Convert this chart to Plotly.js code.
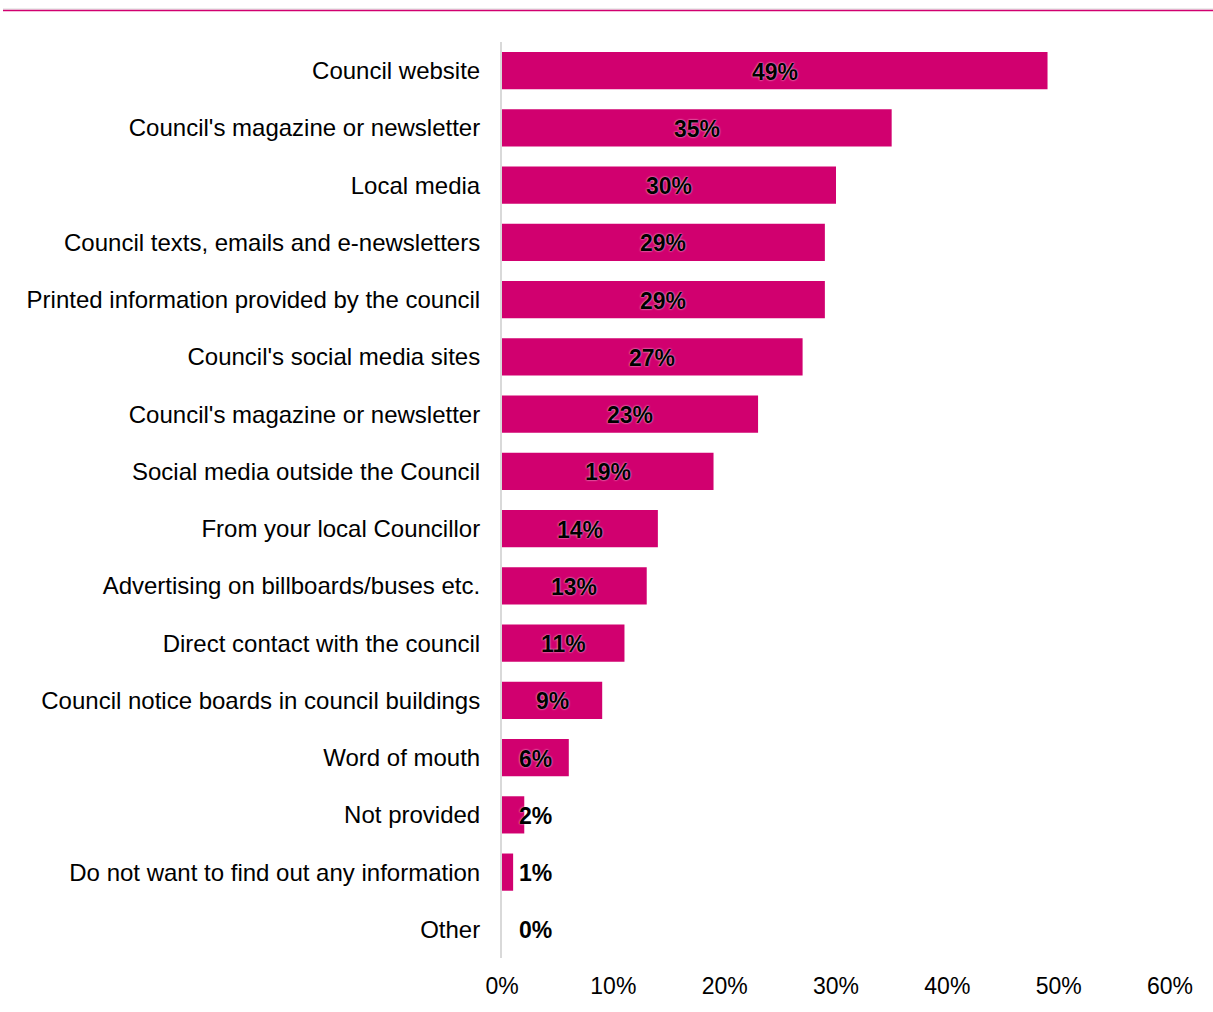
<!DOCTYPE html>
<html>
<head>
<meta charset="utf-8">
<script src="https://cdn.plot.ly/plotly-3.0.1.min.js"></script>
<style>html,body{margin:0;padding:0;background:#fff;}</style>
</head>
<body>
<div id="chart" style="width:1213px;height:1012px;"></div>
<script>
const categories = [
  "Council website",
  "Council's magazine or newsletter",
  "Local media",
  "Council texts, emails and e-newsletters",
  "Printed information provided by the council",
  "Council's social media sites",
  "Council's magazine or newsletter",
  "Social media outside the Council",
  "From your local Councillor",
  "Advertising on billboards/buses etc.",
  "Direct contact with the council",
  "Council notice boards in council buildings",
  "Word of mouth",
  "Not provided",
  "Do not want to find out any information",
  "Other"
];
const values = [49, 35, 30, 29, 29, 27, 23, 19, 14, 13, 11, 9, 6, 2, 1, 0];
const xTicks = [0, 10, 20, 30, 40, 50, 60];
const xTickLabels = ["0%", "10%", "20%", "30%", "40%", "50%", "60%"];

const barColor = "#D1006F";
const positions = categories.map((c, i) => i);

const trace = {
  type: "bar",
  orientation: "h",
  x: values,
  y: positions,
  marker: {color: barColor},
  hoverinfo: "none"
};

const annotations = values.map((v, i) => ({
  x: Math.max(v / 2, 3),
  y: positions[i],
  xref: "x", yref: "y",
  text: v + "%",
  showarrow: false,
  xanchor: "center",
  yanchor: "middle",
  yshift: -1,
  font: {family: "Liberation Sans, Arial, sans-serif", size: 23, color: "#000", weight: "bold", shadow: "0 0 2px #ffffff"}
}));

const layout = {
  width: 1213, height: 1012,
  margin: {l: 502, r: 43, t: 42, b: 54, pad: 0},
  paper_bgcolor: "#fff", plot_bgcolor: "#fff",
  showlegend: false,
  bargap: 0.35,
  font: {family: "Liberation Sans, Arial, sans-serif", size: 22, color: "#000"},
  xaxis: {
    range: [0, 60],
    tickvals: xTicks,
    ticktext: xTickLabels,
    showgrid: false, zeroline: false, showline: false,
    ticks: "outside", ticklen: 7, tickcolor: "rgba(0,0,0,0)",
    tickfont: {size: 23, color: "#000"},
    fixedrange: true
  },
  yaxis: {
    range: [15.5, -0.5],
    tickvals: positions,
    ticktext: categories,
    showgrid: false, zeroline: false,
    showline: true, linecolor: "#d9d9d9", linewidth: 2,
    ticks: "outside", ticklen: 15, tickcolor: "rgba(0,0,0,0)",
    tickfont: {size: 24, color: "#000"},
    fixedrange: true
  },
  annotations: annotations,
  shapes: [
    {type: "line", xref: "paper", yref: "paper",
     x0: (3 - 502) / 668, x1: (1213 - 502) / 668,
     y0: (958 - 9) / 916, y1: (958 - 9) / 916,
     line: {color: "#d9d9d9", width: 1}},
    {type: "line", xref: "paper", yref: "paper",
     x0: (3 - 502) / 668, x1: (1213 - 502) / 668,
     y0: (958 - 10.5) / 916, y1: (958 - 10.5) / 916,
     line: {color: barColor, width: 1.5}}
  ]
};

Plotly.newPlot("chart", [trace], layout, {displayModeBar: false, staticPlot: true});
</script>
</body>
</html>
